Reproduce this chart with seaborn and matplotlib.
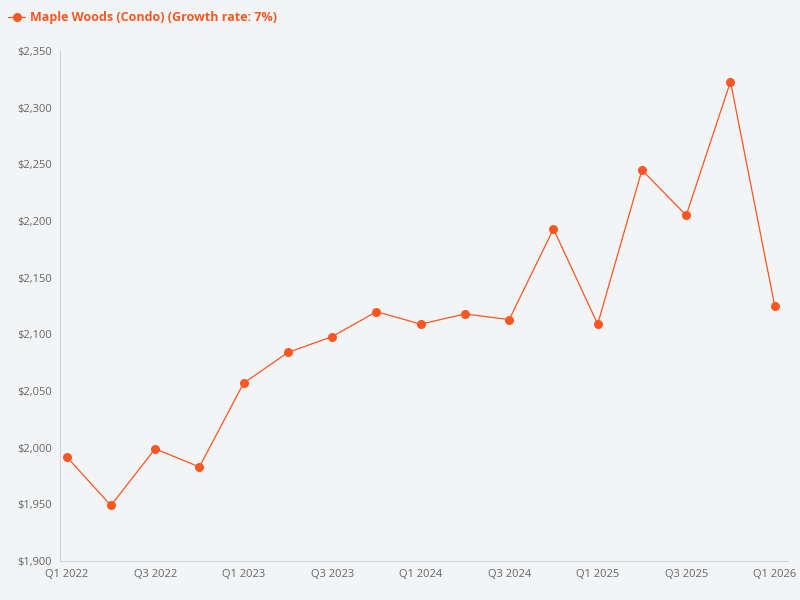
import matplotlib
matplotlib.use("Agg")
import matplotlib.pyplot as plt
import matplotlib.ticker as mticker
import seaborn as sns
import pandas as pd

quarters = ["Q1 2022", "Q2 2022", "Q3 2022", "Q4 2022",
            "Q1 2023", "Q2 2023", "Q3 2023", "Q4 2023",
            "Q1 2024", "Q2 2024", "Q3 2024", "Q4 2024",
            "Q1 2025", "Q2 2025", "Q3 2025", "Q4 2025", "Q1 2026"]
rent = [1992, 1949, 1999, 1983, 2057, 2084, 2098, 2120, 2109, 2118,
        2113, 2193, 2109, 2245, 2205, 2323, 2125]
series_name = "Maple Woods (Condo) (Growth rate: 7%)"

color = "#fc5622"
bg = "#f3f4f6"

df = pd.DataFrame({"idx": range(len(quarters)), "rent": rent})

sns.set_style("white")
plt.rcParams["font.family"] = ["Open Sans", "DejaVu Sans"]

fig, ax = plt.subplots(figsize=(8, 6), dpi=100)
fig.patch.set_facecolor(bg)
ax.set_facecolor(bg)

sns.lineplot(data=df, x="idx", y="rent", ax=ax, color=color, linewidth=0.9,
             marker="o", markersize=6.5, markeredgewidth=0, label=series_name)

ax.set_ylim(1900, 2350)
ax.set_xlim(-0.15, len(quarters) - 0.7)
ax.yaxis.set_major_locator(mticker.MultipleLocator(50))
ax.yaxis.set_major_formatter(mticker.FuncFormatter(lambda v, p: f"${v:,.0f}"))
ax.set_xticks(range(0, len(quarters), 2))
ax.set_xticklabels(quarters[::2])
ax.tick_params(axis="both", labelsize=8, colors="#666666", length=0, pad=6)
ax.set_xlabel("")
ax.set_ylabel("")
for s in ["top", "right"]:
    ax.spines[s].set_visible(False)
for s in ["left", "bottom"]:
    ax.spines[s].set_color("#d0d4da")
    ax.spines[s].set_linewidth(0.8)

leg = ax.legend(loc="upper left", bbox_to_anchor=(-0.087, 1.1), frameon=False,
                fontsize=9, handlelength=1.4, handletextpad=0.4)
for t in leg.get_texts():
    t.set_color(color)
    t.set_fontweight("bold")

plt.subplots_adjust(left=0.075, right=0.985, top=0.915, bottom=0.065)
plt.savefig("out.png", dpi=100, facecolor=bg)
